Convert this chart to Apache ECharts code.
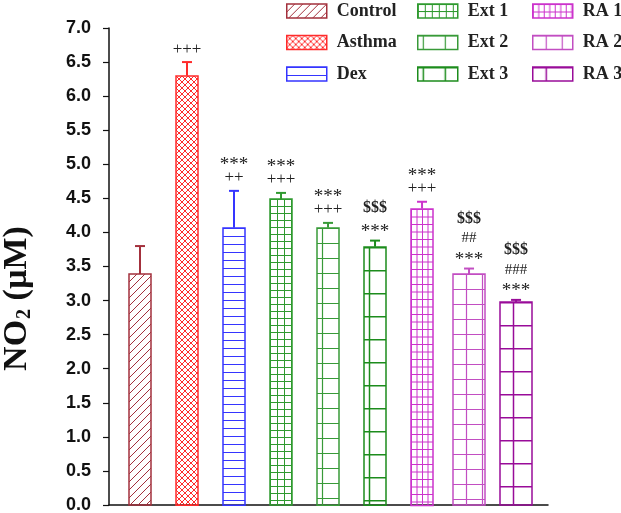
<!DOCTYPE html>
<html lang="en">
<head>
  <meta charset="UTF-8">
  <title>NO2</title>
  <script src="https://cdn.jsdelivr.net/npm/echarts@6/dist/echarts.min.js"></script>
  <style>
    html, body { margin: 0; padding: 0; background: #fff; }
  </style>
</head>
<body>
  <div id="main" style="width: 621px; height: 513px;"></div>
  <script>
    // data
    var groups = ['Control', 'Asthma', 'Dex', 'Ext 1', 'Ext 2', 'Ext 3', 'RA 1', 'RA 2', 'RA 3'];
    var means = [3.39, 6.30, 4.07, 4.49, 4.07, 3.79, 4.35, 3.39, 2.98];
    var errors = [0.41, 0.20, 0.54, 0.09, 0.07, 0.09, 0.10, 0.08, 0.03];
    var marks = [
      [],
      ['+++'],
      ['***', '++'],
      ['***', '+++'],
      ['***', '+++'],
      ['$$$', '***'],
      ['***', '+++'],
      ['$$$', '##', '***'],
      ['$$$', '###', '***']
    ];
    var yTicks = [0, 0.5, 1, 1.5, 2, 2.5, 3, 3.5, 4, 4.5, 5, 5.5, 6, 6.5, 7];

    // look of each group
    var colors = ['#a3303c', '#ff2b2b', '#3535ff', '#2f9a2f', '#389a38', '#1c8c1c', '#cc33cc', '#c24ec2', '#990c99'];
    var barW = [22, 22, 22, 22, 22, 22, 22, 32, 32];

    function tile(w, h, color, lw, draw) {
      var c = document.createElement('canvas');
      c.width = w; c.height = h;
      var ctx = c.getContext('2d');
      ctx.strokeStyle = color;
      ctx.lineWidth = lw;
      ctx.beginPath();
      draw(ctx);
      ctx.stroke();
      return { image: c, repeat: 'repeat' };
    }
    function hLine(ctx, w, y) { ctx.moveTo(0, y); ctx.lineTo(w, y); }
    function vLine(ctx, h, x) { ctx.moveTo(x, 0); ctx.lineTo(x, h); }

    var patterns = [
      tile(8, 8, colors[0], 1, function (ctx) {
        ctx.moveTo(0, 8); ctx.lineTo(8, 0);
        ctx.moveTo(-1, 1); ctx.lineTo(1, -1);
        ctx.moveTo(7, 9); ctx.lineTo(9, 7);
      }),
      tile(6, 6, colors[1], 1, function (ctx) {
        ctx.moveTo(0, 0); ctx.lineTo(6, 6);
        ctx.moveTo(0, 6); ctx.lineTo(6, 0);
      }),
      tile(4, 8, colors[2], 1, function (ctx) { hLine(ctx, 4, 0.5); }),
      tile(7, 7, colors[3], 1, function (ctx) { hLine(ctx, 7, 0.5); vLine(ctx, 7, 0.5); }),
      tile(22, 15, colors[4], 1.2, function (ctx) { hLine(ctx, 22, 0.5); vLine(ctx, 15, 5.5); }),
      tile(22, 23, colors[5], 1.5, function (ctx) { hLine(ctx, 22, 0.75); vLine(ctx, 23, 5.5); }),
      tile(11, 15, colors[6], 1, function (ctx) {
        hLine(ctx, 11, 0.5); hLine(ctx, 11, 8);
        vLine(ctx, 15, 0.5); vLine(ctx, 15, 6);
      }),
      tile(32, 15, colors[7], 1.2, function (ctx) { hLine(ctx, 32, 0.5); vLine(ctx, 15, 13.5); vLine(ctx, 15, 29.5); }),
      tile(32, 23, colors[8], 1.5, function (ctx) { hLine(ctx, 32, 0.75); vLine(ctx, 23, 13.5); })
    ];

    var myChart = echarts.init(document.getElementById('main'));

    function markStyle(s) {
      var c = s.charAt(0);
      if (c === '*') return { size: 19, weight: 'normal', dy: 4 };
      if (c === '$') return { size: 16, weight: 'bold', dy: -3 };
      if (c === '+') return { size: 17, weight: 'normal', dy: 0 };
      return { size: 15, weight: 'normal', dy: 0 };
    }

    function makeRender(i) {
      return function (params, api) {
        var x = api.value(0), m = api.value(1), e = api.value(2);
        var base = api.coord([x, 0]);
        var top = api.coord([x, m]);
        var et = api.coord([x, m + e]);
        var w = barW[i];
        var children = [
          {
            type: 'line',
            shape: { x1: base[0], y1: top[1], x2: base[0], y2: et[1] },
            style: { stroke: colors[i], lineWidth: 2 }
          },
          {
            type: 'line',
            shape: { x1: base[0] - 5, y1: et[1], x2: base[0] + 5, y2: et[1] },
            style: { stroke: colors[i], lineWidth: 2 }
          },
          {
            type: 'group',
            x: Math.round(base[0] - w / 2),
            y: Math.round(top[1]),
            children: [{
              type: 'rect',
              shape: { x: 0, y: 0, width: w, height: base[1] - top[1] },
              style: { fill: patterns[i], stroke: colors[i], lineWidth: 1.5 }
            }]
          }
        ];
        var lines = marks[i];
        for (var k = 0; k < lines.length; k++) {
          var fromBottom = lines.length - 1 - k;
          var ms = markStyle(lines[k]);
          children.push({
            type: 'text',
            x: base[0],
            y: et[1] - 13 - fromBottom * 17 + ms.dy,
            style: {
              text: lines[k],
              textAlign: 'center',
              textVerticalAlign: 'middle',
              fontFamily: 'Liberation Serif',
              fontWeight: ms.weight,
              fontSize: ms.size,
              fill: '#222'
            }
          });
        }
        return { type: 'group', children: children };
      };
    }

    var series = groups.map(function (g, i) {
      return {
        name: g,
        type: 'custom',
        renderItem: makeRender(i),
        itemStyle: { color: patterns[i], borderColor: colors[i], borderWidth: 1.5 },
        encode: { x: 0, y: 1 },
        data: [[i, means[i], errors[i]]],
        z: 2
      };
    });

    function legendAt(left, names) {
      return {
        orient: 'vertical',
        left: left,
        top: 2,
        padding: 0,
        itemWidth: 40,
        itemHeight: 14,
        itemGap: 13.5,
        icon: 'rect',
        selectedMode: false,
        itemStyle: { borderWidth: 1.5, borderColor: 'inherit' },
        textStyle: {
          fontFamily: 'Liberation Serif',
          fontWeight: 'bold',
          fontSize: 18,
          color: '#222',
          padding: [0, 0, 0, 5]
        },
        data: names
      };
    }

    var option = {
      animation: false,
      backgroundColor: '#fff',
      grid: { left: 109, right: 73, top: 28, bottom: 8, outerBoundsMode: 'none', containLabel: false },
      legend: [
        legendAt(286, groups.slice(0, 3)),
        legendAt(417, groups.slice(3, 6)),
        legendAt(532, groups.slice(6, 9))
      ],
      xAxis: {
        type: 'value',
        min: -0.66,
        max: 8.68,
        axisLine: { show: true, onZero: false, lineStyle: { color: '#111', width: 1.5 } },
        axisTick: { show: false },
        axisLabel: { show: false },
        splitLine: { show: false }
      },
      yAxis: {
        type: 'value',
        min: yTicks[0],
        max: yTicks[yTicks.length - 1],
        interval: 0.5,
        name: '{a|NO}{s|2}{a| (µM)}',
        nameLocation: 'middle',
        nameGap: 74,
        nameRotate: 90,
        nameTextStyle: {
          padding: [0, 64, 0, 0],
          rich: {
            a: { fontFamily: 'Liberation Serif', fontWeight: 'bold', fontSize: 34, color: '#111' },
            s: { fontFamily: 'Liberation Serif', fontWeight: 'bold', fontSize: 20, color: '#111', padding: [16, 0, 0, 1] }
          }
        },
        axisLine: { show: true, onZero: false, lineStyle: { color: '#111', width: 1.5 } },
        axisTick: { show: true, inside: false, length: 6, lineStyle: { color: '#111', width: 1.2 } },
        axisLabel: {
          margin: 18,
          fontFamily: 'Liberation Sans',
          fontWeight: 'bold',
          fontSize: 18,
          color: '#111',
          formatter: function (v) { return v.toFixed(1); }
        },
        splitLine: { show: false }
      },
      series: series
    };

    myChart.setOption(option);
  </script>
</body>
</html>
